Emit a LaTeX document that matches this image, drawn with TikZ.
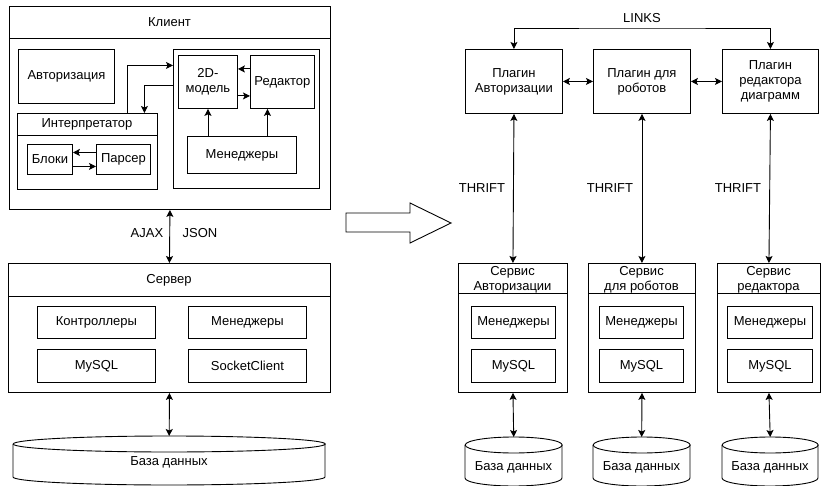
\documentclass[tikz,border=0pt]{standalone}
\usepackage{fontspec}
\setmainfont{Liberation Sans}
\usetikzlibrary{arrows.meta}
\newcommand\fsz{\fontsize{13}{15}\selectfont}
\newcommand\mycyl[5]{% name, x, y, w, h
  \node[minimum width=#4, minimum height=#5, inner sep=0pt, anchor=north west] (#1) at (#2,#3) {};
  \draw[line width=0.9pt, fill=white] (#1.north west) ++(0pt,-8pt) -- ++(0pt,-#5pt+16pt)
     arc[start angle=180, end angle=360, x radius=#4pt/2, y radius=8pt] -- ++(0pt,#5pt-16pt);
  \draw[line width=0.9pt] ([yshift=-8pt]#1.north) ellipse[x radius=#4pt/2, y radius=8pt];
}
\begin{document}
\begin{tikzpicture}[x=1pt,y=-1pt,
  box/.style={draw, line width=0.9pt, inner sep=0pt, anchor=north west, align=center, font=\fsz},
  lbl/.style={inner sep=0pt, align=center, font=\fsz},
  arr/.style={line width=0.9pt, -{Stealth[length=7pt,width=7pt,inset=1.5pt]}},
  darr/.style={line width=0.9pt, {Stealth[length=7pt,width=7pt,inset=1.5pt]}-{Stealth[length=7pt,width=7pt,inset=1.5pt]}}]
\useasboundingbox[fill=white] (0,0) rectangle (821,486);

% ---------------- Client ----------------
\node[box, minimum width=321, minimum height=203] (client) at (9,6) {};
\draw[line width=0.9pt] (9,38) -- (330,38);
\node[lbl] (clientT) at (169.5,22) {Клиент};
\node[box, minimum width=96, minimum height=54] (auth) at (18,49) {Авторизация};
\node[box, minimum width=146, minimum height=139] (cont) at (173,49) {};
\node[box, minimum width=59, minimum height=53] (model) at (178,55) {2D-\\модель};
\node[box, minimum width=64, minimum height=53] (ed) at (250,55) {Редактор};
\node[box, minimum width=109, minimum height=37] (mgr) at (187,136) {Менеджеры};
\node[box, minimum width=140, minimum height=76] (interp) at (17,113) {};
\draw[line width=0.9pt] (17,135) -- (157,135);
\node[lbl] (interpT) at (87,124) {Интерпретатор};
\node[box, minimum width=45, minimum height=30] (blk) at (27,144) {Блоки};
\node[box, minimum width=54, minimum height=30] (prs) at (96,144) {Парсер};

\draw[arr] ([yshift=13pt]ed.west) -- ([yshift=13pt]model.east);
\draw[arr] ([yshift=-14pt]model.east) -- ([yshift=-14pt]ed.west);
\draw[arr] (mgr.north -| model.south) -- (model.south);
\coordinate (edin) at ([xshift=-15pt]ed.south);
\draw[arr] (edin |- mgr.north) -- (edin);
\draw[arr] ([yshift=7pt]prs.west) -- ([yshift=7pt]blk.east);
\draw[arr] ([yshift=-7pt]blk.east) -- ([yshift=-7pt]prs.west);
\draw[arr] ([xshift=40pt]interp.north) |- ([yshift=53.5pt]cont.west);
\draw[arr] ([yshift=33.5pt]cont.west) -| ([xshift=57pt]interp.north);

% ---------------- Server ----------------
\node[box, minimum width=322, minimum height=129] (server) at (8,263) {};
\draw[line width=0.9pt] (8,296) -- (330,296);
\node[lbl] (serverT) at (169,280) {Сервер};
\node[box, minimum width=118, minimum height=32] (ctrl) at (37,306) {Контроллеры};
\node[box, minimum width=118, minimum height=32] (smgr) at (188,306) {Менеджеры};
\node[box, minimum width=118, minimum height=33] (ssql) at (37,349) {MySQL};
\node[box, minimum width=118, minimum height=33] (sock) at (188,349) {SocketClient};

\draw[darr] (client.south) -- (server.north);
\node[lbl] (ajax) at (147,233) {AJAX};
\node[lbl] (json) at (200,233) {JSON};

\mycyl{db}{13}{436}{312}{49}
\node[lbl] (dbT) at (169,462) {База данных};
\draw[darr] (server.south) -- (db.north);

% ---------------- Big arrow ----------------
\draw[line width=0.9pt, fill=white] (346,213) -- (410,213) -- (410,203) -- (451,223) -- (410,243) -- (410,232) -- (346,232) -- cycle;

% ---------------- Plugins ----------------
\node[box, minimum width=97, minimum height=64] (p1) at (465,49) {Плагин\\Авторизации};
\node[box, minimum width=97, minimum height=64] (p2) at (593,49) {Плагин для\\роботов};
\node[box, minimum width=96, minimum height=64] (p3) at (722,49) {Плагин\\редактора\\диаграмм};
\draw[darr] (p1.east) -- (p2.west);
\draw[darr] (p2.east) -- (p3.west);
\coordinate (lk) at (642,28);
\draw[darr] (p1.north) |- (lk) -| (p3.north);
\node[lbl] (links) at (642,18) {LINKS};

% ---------------- Services ----------------
\node[box, minimum width=109, minimum height=129] (s1) at (458,263) {};
\node[box, minimum width=107, minimum height=129] (s2) at (588,263) {};
\node[box, minimum width=103, minimum height=129] (s3) at (717,263) {};
\draw[line width=0.9pt] (458,293) -- (567,293);
\draw[line width=0.9pt] (588,293) -- (695,293);
\draw[line width=0.9pt] (717,293) -- (820,293);
\node[lbl] (s1T) at (512.5,279.5) {Сервис\\Авторизации};
\node[lbl] (s2T) at (641.5,279.5) {Сервис\\для роботов};
\node[lbl] (s3T) at (768.5,279.5) {Сервис\\редактора};

\node[box, minimum width=84, minimum height=32] (m1) at (471,306) {Менеджеры};
\node[box, minimum width=84, minimum height=33] (q1) at (471,349) {MySQL};
\node[box, minimum width=84, minimum height=32] (m2) at (599,306) {Менеджеры};
\node[box, minimum width=84, minimum height=33] (q2) at (599,349) {MySQL};
\node[box, minimum width=85, minimum height=32] (m3) at (727,306) {Менеджеры};
\node[box, minimum width=85, minimum height=33] (q3) at (727,349) {MySQL};

\draw[darr] (p1.south) -- (s1.north);
\draw[darr] (p2.south) -- (s2.north);
\draw[darr] (p3.south) -- (s3.north);
\node[lbl] (t1) at (482,188) {THRIFT};
\node[lbl] (t2) at (610,188) {THRIFT};
\node[lbl] (t3) at (738,188) {THRIFT};

\mycyl{d1}{465}{437}{97}{49}
\mycyl{d2}{593}{437}{97}{49}
\mycyl{d3}{722}{437}{96}{49}
\node[lbl] (d1T) at (513.5,467) {База данных};
\node[lbl] (d2T) at (641.5,467) {База данных};
\node[lbl] (d3T) at (770,467) {База данных};
\draw[darr] (s1.south) -- (d1.north);
\draw[darr] (s2.south) -- (d2.north);
\draw[darr] (s3.south) -- (d3.north);
\end{tikzpicture}
\end{document}
